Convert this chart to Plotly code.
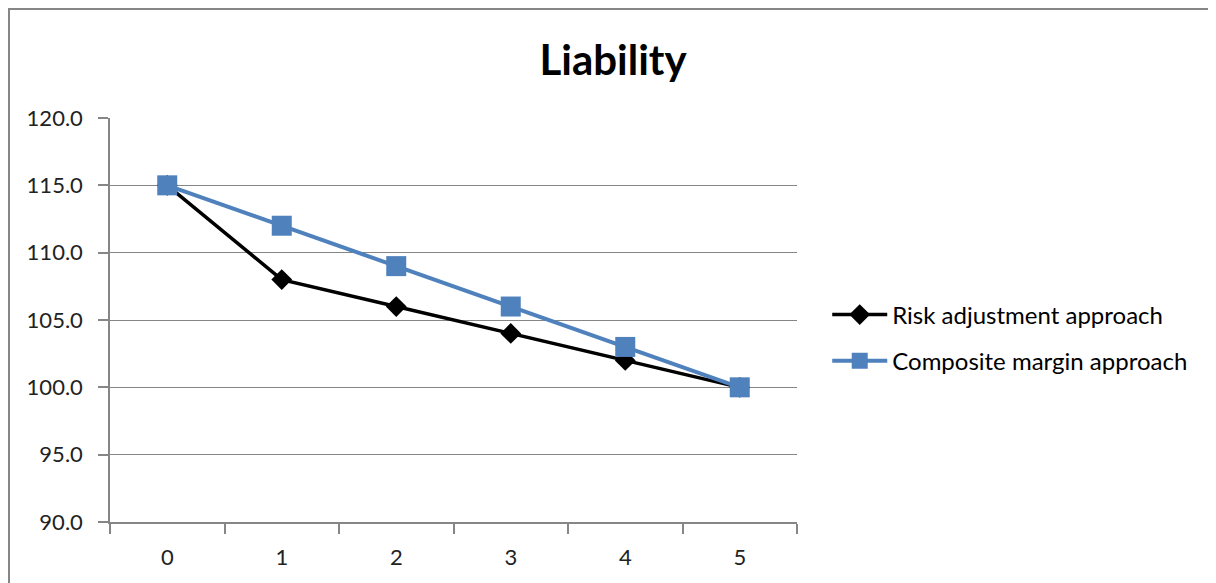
import plotly.graph_objects as go

periods = ["0", "1", "2", "3", "4", "5"]
risk_adjustment = [115, 108, 106, 104, 102, 100]
composite_margin = [115, 112, 109, 106, 103, 100]
y_ticks = [90, 95, 100, 105, 110, 115, 120]
y_labels = ["90.0", "95.0", "100.0", "105.0", "110.0", "115.0", "120.0"]

FONT = "Lato, 'Open Sans', sans-serif"
OFF = 8  # page body margin compensation

fig = go.Figure()
fig.add_trace(go.Scatter(
    x=periods, y=risk_adjustment, name="Risk adjustment approach",
    mode="lines+markers", legendgroup="a",
    line=dict(color="black", width=3.5),
    marker=dict(symbol="diamond", size=16, color="black"),
))
fig.add_trace(go.Scatter(
    x=periods, y=composite_margin, name="Composite margin approach",
    mode="lines+markers", legendgroup="b",
    line=dict(color="#4F81BD", width=4),
    marker=dict(symbol="square", size=20, color="#4F81BD"),
))

fig.update_layout(
    width=1216, height=583,
    margin=dict(l=110 - OFF, r=1216 - (110 - OFF) - 687, t=118 - OFF, b=583 - (118 - OFF) - 404),
    paper_bgcolor="white", plot_bgcolor="white",
    font=dict(family=FONT, size=22, color="#222"),
    title=dict(text="<b>Liability</b>", x=(613 - OFF) / 1216, xanchor="center",
               xref="container",
               y=1 - (60 - OFF) / 583, yanchor="middle", yref="container",
               font=dict(family=FONT, size=42, color="black")),
    legend=dict(x=1.044, xanchor="left", y=1 - (338 - 118) / 404, yanchor="middle",
                font=dict(family=FONT, size=24, color="black"),
                itemwidth=55, tracegroupgap=12, bgcolor="rgba(0,0,0,0)"),
    showlegend=True,
)
fig.update_xaxes(
    type="category", range=[-0.5, 5.5], tickson="boundaries",
    ticks="outside", ticklen=10, tickcolor="#868686", tickwidth=1.5,
    showline=True, linecolor="#868686", linewidth=1.5,
    showgrid=False, zeroline=False, ticklabelstandoff=15,
    tickfont=dict(family=FONT, size=22, color="#222"),
)
fig.update_yaxes(
    range=[90, 120], tickvals=y_ticks, ticktext=y_labels,
    ticks="outside", ticklen=10, tickcolor="#868686", tickwidth=1.5,
    showline=True, linecolor="#868686", linewidth=1.5,
    showgrid=True, gridcolor="#868686", gridwidth=1.2, zeroline=False,
    ticklabelstandoff=11,
    tickfont=dict(family=FONT, size=22, color="#222"),
)
fig.add_shape(type="rect", xref="paper", yref="paper",
              x0=-101 / 687, x1=1500 / 687, y0=-200 / 404, y1=1 + 109 / 404,
              line=dict(color="#868686", width=2), fillcolor="rgba(0,0,0,0)",
              layer="below")

fig.write_html("out.html")
